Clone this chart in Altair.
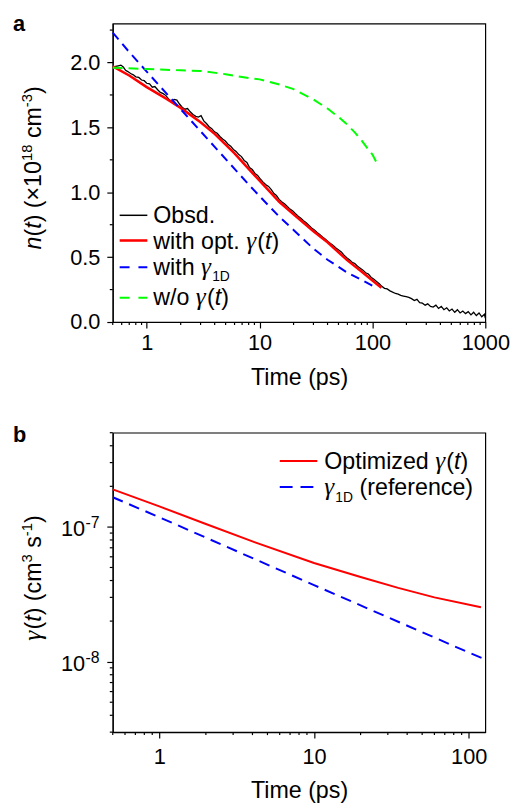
import altair as alt
import pandas as pd

FONT = "Liberation Sans"
GFONT = "Liberation Serif"

# ---------------- panel a data ----------------
obs_t = [0.50, 0.53, 0.56, 0.59, 0.62, 0.65, 0.68, 0.72, 0.76, 0.80,
         0.85, 0.90, 0.95, 1.00, 1.06, 1.12, 1.18, 1.25, 1.32, 1.40,
         1.48, 1.56, 1.65, 1.75, 1.85, 1.95, 2.06, 2.18, 2.30, 2.43,
         2.57, 2.72, 2.87, 3.03, 3.20, 3.38, 3.57, 3.77, 3.99, 4.21,
         4.45, 4.70, 4.97, 5.25, 5.55, 5.86, 6.19, 6.54, 6.91, 7.30,
         7.72, 8.15, 8.61, 9.10, 9.61, 10.2, 10.7, 11.3, 12.0, 12.7,
         13.4, 14.1, 14.9, 15.8, 16.7, 17.6, 18.6, 19.7, 20.8, 22.0,
         23.2, 24.5, 25.9, 27.4, 28.9, 30.6, 32.3, 34.1, 36.1, 38.1,
         40.3, 42.5, 44.9, 47.5, 50.2, 53.0, 56.0, 59.2, 62.5, 66.1,
         69.8, 73.8, 78.0, 82.4, 87.0, 92.0, 97.2, 103, 108, 115,
         121, 128, 135, 143, 151, 160, 169, 178, 188, 199,
         210, 222, 235, 248, 262, 277, 293, 309, 327, 345,
         365, 385, 407, 430, 455, 480, 507, 536, 566, 598,
         632, 668, 706, 746, 788, 833, 880, 930, 983, 1000]
obs_n = [1.96, 1.97, 1.975, 1.98, 1.965, 1.94, 1.93, 1.915, 1.905, 1.89,
         1.885, 1.865, 1.86, 1.84, 1.835, 1.81, 1.815, 1.79, 1.77, 1.76,
         1.745, 1.72, 1.70, 1.715, 1.71, 1.68, 1.655, 1.64, 1.645, 1.62,
         1.60, 1.585, 1.58, 1.59, 1.55, 1.53, 1.505, 1.49, 1.465, 1.455,
         1.43, 1.41, 1.395, 1.37, 1.355, 1.33, 1.315, 1.29, 1.275, 1.245,
         1.23, 1.19, 1.175, 1.145, 1.13, 1.10, 1.08, 1.06, 1.045, 1.02,
         0.99, 0.975, 0.945, 0.925, 0.91, 0.89, 0.87, 0.855, 0.835, 0.815,
         0.80, 0.78, 0.765, 0.745, 0.725, 0.71, 0.69, 0.675, 0.655, 0.64,
         0.62, 0.605, 0.59, 0.57, 0.555, 0.54, 0.515, 0.495, 0.48, 0.46,
         0.45, 0.43, 0.415, 0.40, 0.38, 0.37, 0.345, 0.33, 0.315, 0.295,
         0.275, 0.26, 0.255, 0.24, 0.23, 0.22, 0.215, 0.205, 0.20, 0.195,
         0.19, 0.18, 0.165, 0.175, 0.15, 0.145, 0.13, 0.14, 0.12, 0.115,
         0.13, 0.105, 0.12, 0.095, 0.11, 0.085, 0.10, 0.075, 0.095, 0.07,
         0.085, 0.065, 0.08, 0.055, 0.075, 0.05, 0.07, 0.04, 0.06, 0.03]

opt_t = [0.5, 0.7, 1, 1.5, 2, 3, 4, 6, 8, 10, 15, 20, 30, 40, 60, 80, 100, 120]
opt_n = [1.97, 1.90, 1.81, 1.72, 1.65, 1.54, 1.45, 1.30, 1.18, 1.09, 0.925, 0.83,
         0.70, 0.615, 0.475, 0.39, 0.32, 0.265]

g1d_t = [0.5, 0.7, 1, 1.5, 2, 3, 4, 6, 8, 10, 15, 20, 30, 40, 60, 80, 100, 110]
g1d_n = [2.23, 2.08, 1.93, 1.76, 1.64, 1.47, 1.35, 1.18, 1.06, 0.97, 0.81, 0.71,
         0.565, 0.48, 0.38, 0.325, 0.28, 0.265]

wo_t = [0.5, 1, 2, 3, 5, 8, 10, 15, 20, 30, 40, 50, 60, 70, 80, 90, 100, 113]
wo_n = [1.96, 1.95, 1.94, 1.935, 1.91, 1.88, 1.87, 1.83, 1.795, 1.715, 1.645,
        1.58, 1.52, 1.46, 1.40, 1.34, 1.29, 1.20]

# ---------------- panel b data ----------------
optb_t = [0.5, 1, 2, 4, 10, 20, 35, 60, 120]
optb_g = [1.9e-7, 1.42e-7, 1.05e-7, 7.8e-8, 5.4e-8, 4.25e-8, 3.53e-8, 3.0e-8, 2.53e-8]
refb_t = [0.5, 1, 10, 100, 128]
refb_g = [1.66e-7, 1.18e-7, 3.7e-8, 1.17e-8, 1.04e-8]

# ---------------- ticks ----------------
xa_major = [1, 10, 100, 1000]
xa_minor = [0.5, 0.6, 0.7, 0.8, 0.9, 2, 3, 4, 5, 6, 7, 8, 9,
            20, 30, 40, 50, 60, 70, 80, 90, 200, 300, 400, 500, 600, 700, 800, 900]
ya_major = [0, 0.5, 1.0, 1.5, 2.0]
ya_minor = [0.25, 0.75, 1.25, 1.75, 2.25]
xb_major = [1, 10, 100]
xb_minor = [0.5, 0.6, 0.7, 0.8, 0.9, 2, 3, 4, 5, 6, 7, 8, 9,
            20, 30, 40, 50, 60, 70, 80, 90]
yb_major = [1e-8, 1e-7]
yb_major_exp = ["-8", "-7"]
yb_minor = [3e-9, 4e-9, 5e-9, 6e-9, 7e-9, 8e-9, 9e-9,
            2e-8, 3e-8, 4e-8, 5e-8, 6e-8, 7e-8, 8e-8, 9e-8,
            2e-7, 3e-7, 4e-7, 5e-7]

# ---------------- helpers ----------------
WIDTH = {' ': 278, '(': 333, ')': 333, '.': 278, '/': 278, '×': 584, '-': 333,
         '0': 556, '1': 556, '3': 556, '7': 556, '8': 556,
         'a': 556, 'b': 556, 'c': 500, 'd': 556, 'e': 556, 'f': 278, 'h': 556,
         'i': 222, 'm': 833, 'n': 556, 'o': 556, 'p': 556, 'r': 333, 's': 500,
         't': 278, 'w': 722, 'z': 500, 'D': 722, 'O': 778, 'T': 611, 'γ': 480}


def tw(s, size):
    return sum(WIDTH.get(ch, 556) for ch in s) * size / 1000.0


ONE = pd.DataFrame({"k": [0]})
TXT = 23.5
SUB = 14
SUP = 15


def seg_style(kind, size):
    font, sz, style = FONT, size, "normal"
    if kind in ("i", "g"):
        style = "italic"
    if kind == "g":
        font, sz = GFONT, size + 2
    if kind == "sub":
        sz = SUB
    if kind == "sup":
        sz = SUP
    return font, sz, style


def htext(parts, x0, y0, size=TXT):
    charts = []
    x = x0
    for text, kind in parts:
        font, sz, style = seg_style(kind, size)
        stripped = text.lstrip(" ")
        x += tw(text[:len(text) - len(stripped)], sz)
        y = y0 + (6.5 if kind == "sub" else (-9 if kind == "sup" else 0))
        charts.append(
            alt.Chart(ONE).mark_text(text=stripped, align="left", baseline="alphabetic",
                                     font=font, fontSize=sz, fontStyle=style,
                                     color="black")
            .encode(x=alt.value(x), y=alt.value(y)))
        x += tw(stripped, size if kind == "g" else sz)
    return charts


def vtext(parts, bx, yc, size=TXT):
    total = sum(tw(t, SUP if k == "sup" else size) for t, k in parts)
    y = yc + total / 2
    charts = []
    for text, kind in parts:
        font, sz, style = seg_style(kind, size)
        stripped = text.lstrip(" ")
        y -= tw(text[:len(text) - len(stripped)], sz)
        x = bx - 9 if kind == "sup" else bx
        charts.append(
            alt.Chart(ONE).mark_text(text=stripped, align="left", baseline="alphabetic",
                                     angle=270, font=font, fontSize=sz,
                                     fontStyle=style, color="black")
            .encode(x=alt.value(x), y=alt.value(y)))
        y -= tw(stripped, size if kind == "g" else sz)
    return charts


def legline(x1, x2, y, color, width, dash=None):
    kw = dict(color=color, strokeWidth=width)
    if dash:
        kw["strokeDash"] = dash
    return alt.Chart(ONE).mark_rule(**kw).encode(
        x=alt.value(x1), x2=alt.value(x2), y=alt.value(y))


def panel_label(t):
    return alt.Chart(ONE).mark_text(text=t, align="left", baseline="alphabetic",
                                    font=FONT, fontSize=22, fontWeight="bold",
                                    color="black").encode(
        x=alt.value(-101), y=alt.value(8 if t == "a" else 9))


GREEN = "#00ff00"

# ---------------- panel a ----------------
WA, HA = 377, 302
xsa = alt.Scale(type="log", domain=[0.5, 1000], nice=False)
ysa = alt.Scale(domain=[0, 2.3], nice=False, zero=False)

df_obs = pd.DataFrame({"t": obs_t, "n": obs_n})
df_opt = pd.DataFrame({"t": opt_t, "n": opt_n})
df_g1d = pd.DataFrame({"t": g1d_t, "n": g1d_n})
df_wo = pd.DataFrame({"t": wo_t, "n": wo_n})

ax_xa = alt.Axis(values=xa_major, format="d", title="Time (ps)", tickSize=6,
                 labelPadding=5, titlePadding=12)
ax_ya = alt.Axis(values=ya_major, format=".1f", title=None, tickSize=6,
                 labelPadding=7)

XA = alt.X("t:Q", scale=xsa, axis=ax_xa)
YA = alt.Y("n:Q", scale=ysa, axis=ax_ya)

a_layers = [
    alt.Chart(df_obs).mark_line(color="black", strokeWidth=1.3).encode(x=XA, y=YA),
    alt.Chart(df_opt).mark_line(color="#ff0000", strokeWidth=2.6).encode(x=XA, y=YA),
    alt.Chart(df_g1d).mark_line(color="#0000ff", strokeWidth=2, strokeDash=[9, 6]).encode(x=XA, y=YA),
    alt.Chart(df_wo).mark_line(color=GREEN, strokeWidth=2, strokeDash=[10, 6]).encode(x=XA, y=YA),
    alt.Chart(pd.DataFrame({"t": xa_minor})).mark_rule(color="black", strokeWidth=1.2).encode(
        x=XA, y=alt.value(HA), y2=alt.value(HA + 3)),
    alt.Chart(pd.DataFrame({"n": ya_minor})).mark_rule(color="black", strokeWidth=1.2).encode(
        y=YA, x=alt.value(0), x2=alt.value(-3)),
    legline(7, 35, 194, "black", 1.5),
    legline(7, 35, 219.5, "#ff0000", 2.6),
    legline(7, 35, 246.5, "#0000ff", 2, [10, 9]),
    legline(7, 35, 277.5, GREEN, 2, [10, 9]),
]
a_layers += htext([("Obsd.", "n")], 41, 201.5)
a_layers += htext([("with opt. ", "n"), ("γ", "g"), ("(", "n"), ("t", "i"), (")", "n")], 41, 228)
a_layers += htext([("with ", "n"), ("γ", "g"), ("1D", "sub")], 41, 254)
a_layers += htext([("w/o ", "n"), ("γ", "g"), ("(", "n"), ("t", "i"), (")", "n")], 41, 285)
a_layers += vtext([("n", "i"), ("(", "n"), ("t", "i"), (") (×10", "n"), ("18", "sup"),
                   (" cm", "n"), ("-3", "sup"), (")", "n")], -73, 146)
a_layers.append(panel_label("a"))

panel_a = alt.layer(*a_layers).properties(width=WA, height=HA)

# ---------------- panel b ----------------
WB, HB = 377, 303
xsb = alt.Scale(type="log", domain=[0.5, 128], nice=False)
ysb = alt.Scale(type="log", domain=[3e-9, 5e-7], nice=False)

df_optb = pd.DataFrame({"t": optb_t, "g": optb_g})
df_refb = pd.DataFrame({"t": refb_t, "g": refb_g})
df_yb = pd.DataFrame({"g": yb_major, "e": yb_major_exp})

ax_xb = alt.Axis(values=xb_major, format="d", title="Time (ps)", tickSize=6,
                 labelPadding=9, titlePadding=11)
ax_yb = alt.Axis(values=yb_major, labels=False, title=None, tickSize=6)

XB = alt.X("t:Q", scale=xsb, axis=ax_xb)
YB = alt.Y("g:Q", scale=ysb, axis=ax_yb)

b_layers = [
    alt.Chart(df_optb).mark_line(color="#ff0000", strokeWidth=2).encode(x=XB, y=YB),
    alt.Chart(df_refb).mark_line(color="#0000ff", strokeWidth=2, strokeDash=[11, 7], clip=True).encode(x=XB, y=YB),
    alt.Chart(pd.DataFrame({"t": xb_minor})).mark_rule(color="black", strokeWidth=1.2).encode(
        x=XB, y=alt.value(HB), y2=alt.value(HB + 3)),
    alt.Chart(pd.DataFrame({"g": yb_minor})).mark_rule(color="black", strokeWidth=1.2).encode(
        y=YB, x=alt.value(0), x2=alt.value(-3)),
    alt.Chart(df_yb).mark_text(text="10", align="right", baseline="alphabetic", dy=9.5,
                               font=FONT, fontSize=22, color="black").encode(
        y=YB, x=alt.value(-28)),
    alt.Chart(df_yb).mark_text(align="left", baseline="alphabetic", dy=1.5,
                               font=FONT, fontSize=16, color="black").encode(
        y=YB, x=alt.value(-27.5), text="e:N"),
    legline(169, 207, 28.7, "#ff0000", 2),
    legline(169, 207, 55, "#0000ff", 2, [13, 8]),
]
b_layers += htext([("Optimized ", "n"), ("γ", "g"), ("(", "n"), ("t", "i"), (")", "n")], 214, 37)
b_layers += htext([("γ", "g"), ("1D", "sub"), (" (reference)", "n")], 214, 63.5)
b_layers += vtext([("γ", "g"), ("(", "n"), ("t", "i"), (") (cm", "n"), ("3", "sup"),
                   (" s", "n"), ("-1", "sup"), (")", "n")], -73, 147)
b_layers.append(panel_label("b"))

panel_b = alt.layer(*b_layers).properties(width=WB, height=HB)

chart = (
    alt.vconcat(panel_a, panel_b, spacing=33)
    .properties(padding={"left": 4, "top": 0, "right": 0, "bottom": 0}, background="white")
    .configure_axis(labelFont=FONT, titleFont=FONT, labelFontSize=22, titleFontSize=23.5,
                    labelColor="black", titleColor="black", titleFontWeight="normal",
                    domainColor="black", tickColor="black", domainWidth=1.2, tickWidth=1.2,
                    grid=False, labelFlush=False, labelOverlap=False)
    .configure_view(stroke="black", strokeWidth=1.2)
)

chart.save("out.html", embed_options={"renderer": "svg", "actions": False})
